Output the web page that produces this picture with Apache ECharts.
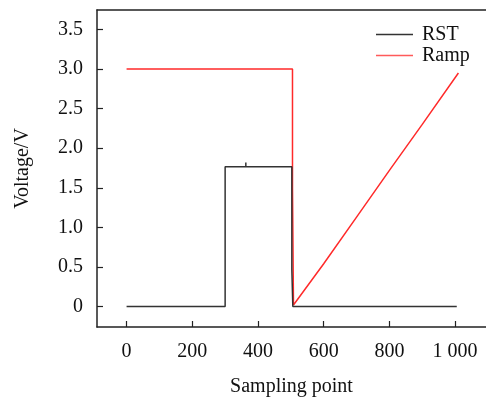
<!DOCTYPE html>
<html><head><meta charset="utf-8">
<script src="https://cdn.jsdelivr.net/npm/echarts@6/dist/echarts.min.js"></script>
<style>html,body{margin:0;padding:0;background:#fff}#c{width:486px;height:402px}</style>
</head><body><div id="c"></div>
<script>
// RST (black) trace: sample index and voltage
var rstX = [0, 300, 300, 363, 363, 363, 503, 503, 506, 506, 1005];
var rstY = [0, 0, 1.766, 1.766, 1.82, 1.766, 1.766, 0.47, 0.47, 0, 0];
// Ramp (red) trace
var rampX = [0, 505, 505, 508, 508, 511, 600, 700, 800, 900, 1010];
var rampY = [3.0, 3.0, 1.5, 1.5, 0.02, 0.02, 0.54, 1.13, 1.72, 2.3, 2.95];
// ticks
var xTicks = [0, 200, 400, 600, 800, 1000];
var xTickLabels = ['0', '200', '400', '600', '800', '1 000'];
var yTicks = [0, 0.5, 1.0, 1.5, 2.0, 2.5, 3.0, 3.5];
var yTickLabels = ['0', '0.5', '1.0', '1.5', '2.0', '2.5', '3.0', '3.5'];

function pairs(xs, ys){ return xs.map(function(x,i){ return [x, ys[i]]; }); }
var font = 'Liberation Serif';
var axisCol = '#222';
var fs = 20;
var chart = echarts.init(document.getElementById('c'));
chart.setOption({
  animation: false,
  textStyle: {fontFamily: font},
  grid: {left: 97, top: 10, right: -1, bottom: 71},
  legend: {
    orient: 'vertical', left: 376, top: 24, padding: 0, itemWidth: 37, itemHeight: 1.6, itemGap: 0,
    icon: 'rect',
    textStyle: {fontFamily: font, fontSize: fs, lineHeight: 21, color: '#111', padding: [0,0,0,4]},
    data: [{name: 'RST', itemStyle: {color: '#333'}}, {name: 'Ramp', itemStyle: {color: '#ff5a5a'}}]
  },
  xAxis: [{
    type: 'value', min: -90, max: 1094,
    name: 'Sampling point', nameLocation: 'middle', nameGap: 50,
    nameTextStyle: {fontFamily: font, fontSize: fs, color: '#111'},
    axisLine: {show: true, onZero: false, lineStyle: {color: axisCol, width: 1.5}},
    axisTick: {show: true, inside: true, length: 6, customValues: xTicks, lineStyle: {color: axisCol, width: 1.2}},
    axisLabel: {customValues: xTicks, margin: 15, fontFamily: font, fontSize: fs, color: '#111',
      formatter: function(v){ var i = xTicks.indexOf(v); return i >= 0 ? xTickLabels[i] : ''; }},
    splitLine: {show: false}
  }, {
    type: 'value', position: 'top', min: -90, max: 1094,
    axisLine: {show: true, onZero: false, lineStyle: {color: axisCol, width: 1.5}},
    axisTick: {show: false}, axisLabel: {show: false}, splitLine: {show: false}
  }],
  yAxis: {
    type: 'value', min: -0.258, max: 3.745,
    name: 'Voltage/V', nameLocation: 'middle', nameGap: 64, nameRotate: 90,
    nameTextStyle: {fontFamily: font, fontSize: fs, color: '#111'},
    axisLine: {show: true, onZero: false, lineStyle: {color: axisCol, width: 1.5}},
    axisTick: {show: true, inside: true, length: 6, customValues: yTicks, lineStyle: {color: axisCol, width: 1.2}},
    axisLabel: {customValues: yTicks, margin: 14, fontFamily: font, fontSize: fs, color: '#111',
      formatter: function(v){ var i = yTicks.indexOf(v); return i >= 0 ? yTickLabels[i] : ''; }},
    splitLine: {show: false}
  },
  series: [{
    name: 'RST', type: 'line', symbol: 'none', data: pairs(rstX, rstY),
    lineStyle: {color: '#333', width: 1.5}, itemStyle: {color: '#333'}, z: 3
  }, {
    name: 'Ramp', type: 'line', symbol: 'none', data: pairs(rampX, rampY),
    lineStyle: {color: '#ff2a2a', width: 1.5}, itemStyle: {color: '#ff5555'}, z: 2
  }]
});
</script></body></html>
